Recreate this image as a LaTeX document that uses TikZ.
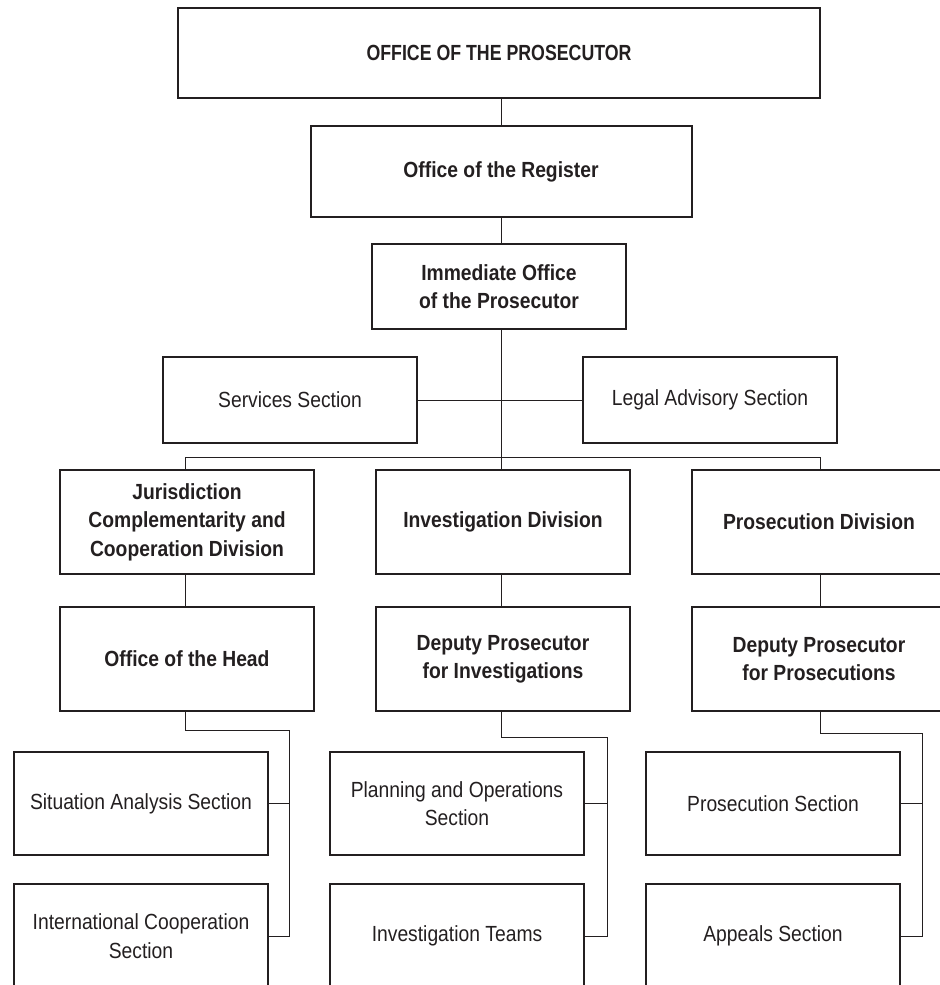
\documentclass[tikz,border=0pt]{standalone}
\usepackage{fontspec}
\setmainfont{Liberation Sans}[FakeStretch=0.88]
\newfontfamily\titlefont{Liberation Sans}[FakeStretch=0.81]
\definecolor{ink}{HTML}{231F20}
\begin{document}
\begin{tikzpicture}[x=1bp,y=-1bp,
  bx/.style={draw=ink, line width=2bp, text=ink, inner sep=0pt, align=center,
    minimum width=254bp, minimum height=104bp,
    font=\fontsize{22}{28.5}\selectfont},
  bb/.style={bx, font=\fontsize{22}{28.5}\selectfont\bfseries},
  ln/.style={draw=ink, line width=1bp}]
\useasboundingbox (0,0) rectangle (940,985);
\clip (0,0) rectangle (940,985);
% top levels
\node[bx, font=\titlefont\fontsize{22}{28.5}\selectfont\bfseries, minimum width=642bp, minimum height=90bp] (top) at (499,53) {OFFICE OF THE PROSECUTOR};
\node[bb, minimum width=381bp, minimum height=91bp] (reg) at (501,171.5) {Office of the Register};
\node[bb, minimum height=85bp] (imm) at (499,286.5) {Immediate Office\\of the Prosecutor};
\node[bx, minimum height=86bp] (serv) at (290,400) {Services Section};
\node[bx, minimum height=86bp] (legal) at (710,400) {Legal Advisory Section};
% divisions
\node[bb] (jur) at (187,522) {Jurisdiction\\Complementarity and\\Cooperation Division};
\node[bb] (invd) at (503,522) {Investigation Division};
\node[bb] (prosd) at (819,522) {Prosecution Division};
\node[bb] (head) at (187,659) {Office of the Head};
\node[bb] (depinv) at (503,659) {Deputy Prosecutor\\for Investigations};
\node[bb] (deppros) at (819,659) {Deputy Prosecutor\\for Prosecutions};
% sections
\node[bx, minimum height=103bp] (sit) at (141,803.5) {Situation Analysis Section};
\node[bx] (intl) at (141,936) {International Cooperation\\Section};
\node[bx, minimum height=103bp] (plan) at (457,803.5) {Planning and Operations\\Section};
\node[bx] (teams) at (457,936) {Investigation Teams};
\node[bx, minimum height=103bp] (prsec) at (773,803.5) {Prosecution Section};
\node[bx] (appeals) at (773,936) {Appeals Section};
% coordinates
\coordinate (cx) at (501,0);
\coordinate (busL) at (185,457);
\coordinate (busR) at (820,457);
\coordinate (eL) at (289,730);
\coordinate (eM) at (607,737);
\coordinate (eR) at (922,733);
% connectors
\draw[ln] (cx |- top.south) -- (cx |- reg.north);
\draw[ln] (cx |- reg.south) -- (cx |- imm.north);
\draw[ln] (cx |- imm.south) -- (cx |- invd.north);
\draw[ln] (serv.east) -- (legal.west);
\draw[ln] (busL |- jur.north) -- (busL) -- (busR) -- (busR |- prosd.north);
\draw[ln] (busL |- jur.south) -- (busL |- head.north);
\draw[ln] (cx |- invd.south) -- (cx |- depinv.north);
\draw[ln] (busR |- prosd.south) -- (busR |- deppros.north);
% elbows
\draw[ln] (busL |- head.south) -- (busL |- eL) -- (eL) -- (eL |- intl.east) -- (intl.east);
\draw[ln] (eL |- sit.east) -- (sit.east);
\draw[ln] (cx |- depinv.south) -- (cx |- eM) -- (eM) -- (eM |- teams.east) -- (teams.east);
\draw[ln] (eM |- plan.east) -- (plan.east);
\draw[ln] (busR |- deppros.south) -- (busR |- eR) -- (eR) -- (eR |- appeals.east) -- (appeals.east);
\draw[ln] (eR |- prsec.east) -- (prsec.east);
\end{tikzpicture}
\end{document}
